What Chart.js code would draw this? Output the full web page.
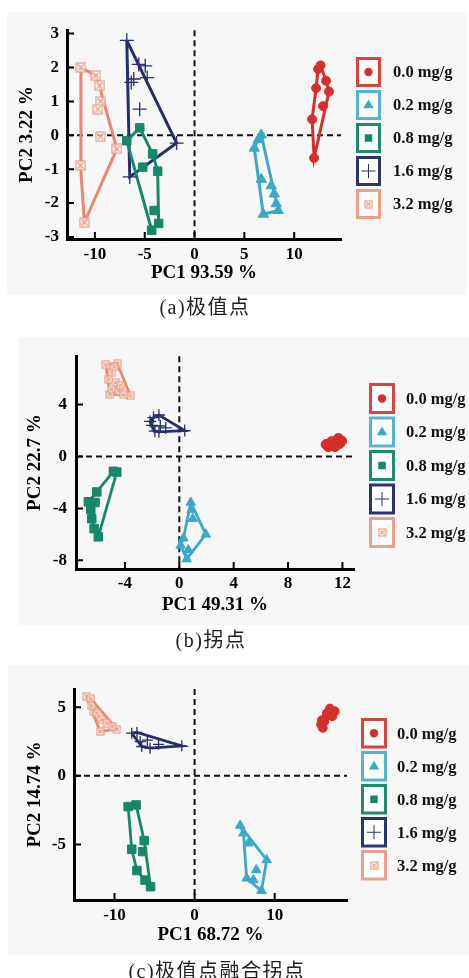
<!DOCTYPE html>
<html>
<head>
<meta charset="utf-8">
<script src="https://cdn.jsdelivr.net/npm/chart.js@4.4.1/dist/chart.umd.min.js"></script>
<style>
  html, body { margin: 0; padding: 0; background: #fff; }
  body { width: 469px; height: 978px; position: relative; overflow: hidden; }
  .panel { position: absolute; background: #f7f7f7; }
  .panel canvas { display: block; }
  .cap {
    position: absolute; transform: translate(-50%, -50%); white-space: nowrap;
    font: 20px "Liberation Serif", "Noto Sans CJK SC", serif; letter-spacing: 1.5px; color: #222;
  }
</style>
</head>
<body>
<div class="panel" style="left:7px;top:12px;width:460px;height:283px"><canvas id="ca" width="460" height="283"></canvas></div>
<div class="cap" style="left:205px;top:305px">(a)极值点</div>
<div class="panel" style="left:18px;top:337px;width:451px;height:288px"><canvas id="cb" width="451" height="288"></canvas></div>
<div class="cap" style="left:211px;top:638px">(b)拐点</div>
<div class="panel" style="left:8px;top:665px;width:461px;height:290px"><canvas id="cc" width="461" height="290"></canvas></div>
<div class="cap" style="left:217px;top:969px">(c)极值点融合拐点</div>

<script>
const GROUPS = ["0.0 mg/g", "0.2 mg/g", "0.8 mg/g", "1.6 mg/g", "3.2 mg/g"];
const COLORS = ["#d5302a", "#3aa9c9", "#17876a", "#252f6b", "#ec876b"];
const BOX_COLORS = ["#d6453e", "#55b3d1", "#1f8b6e", "#2b3572", "#eea08a"];
const MARK_ORANGE = "#e99c86";

// (a) 极值点
const A_X_TICKS = [-10, -5, 0, 5, 10];
const A_Y_TICKS = [-3, -2, -1, 0, 1, 2, 3];
const A_RED_X = [12.65, 12.4, 13.2, 12.2, 13.5, 12.9, 11.8, 12.0];
const A_RED_Y = [2.06, 1.95, 1.61, 1.39, 1.29, 0.86, 0.47, -0.67];
const A_RED_HULL = [0, 2, 4, 7, 6, 3, 1];
const A_CYAN_X = [6.7, 6.4, 6.0, 6.7, 7.7, 8.0, 8.2, 8.4, 6.9];
const A_CYAN_Y = [0.01, -0.13, -0.38, -1.3, -1.49, -1.73, -2.02, -2.22, -2.33];
const A_CYAN_HULL = [0, 7, 8, 2, 1];
const A_GREEN_X = [-5.5, -6.8, -4.2, -5.2, -3.7, -4.05, -3.6, -4.3];
const A_GREEN_Y = [0.22, -0.16, -0.55, -0.94, -1.06, -2.22, -2.6, -2.8];
const A_GREEN_HULL = [0, 2, 4, 6, 7, 1];
const A_NAVY_X = [-6.8, -5.6, -4.95, -4.75, -6.1, -6.35, -5.5, -1.8, -6.5];
const A_NAVY_Y = [2.8, 2.09, 2.05, 1.7, 1.66, 1.56, 0.77, -0.23, -1.23];
const A_NAVY_HULL = [0, 7, 8];
const A_ORANGE_X = [-11.4, -9.9, -9.55, -9.45, -9.7, -9.45, -7.8, -11.45, -11.05];
const A_ORANGE_Y = [2.0, 1.76, 1.46, 1.0, 0.77, -0.04, -0.4, -0.89, -2.57];
const A_ORANGE_HULL = [0, 1, 2, 6, 8, 7];

// (b) 拐点
const B_X_TICKS = [-4, 0, 4, 8, 12];
const B_Y_TICKS = [-8, -4, 0, 4];
const B_RED_X = [10.8, 10.96, 11.2, 11.45, 11.7, 11.8, 11.94];
const B_RED_Y = [0.93, 0.76, 1.14, 0.76, 1.39, 1.0, 1.2];
const B_RED_HULL = [1, 3, 5, 6, 4, 2, 0];
const B_CYAN_X = [0.84, 0.91, 0.99, 1.95, 0.3, 0.1, 0.66, 0.54];
const B_CYAN_Y = [-3.54, -4.09, -4.8, -6.0, -6.3, -6.85, -7.2, -7.9];
const B_CYAN_HULL = [0, 3, 7, 5, 4];
const B_GREEN_X = [-4.85, -4.6, -6.07, -6.69, -6.2, -6.51, -6.44, -6.27, -5.96];
const B_GREEN_Y = [-1.14, -1.2, -2.73, -3.49, -3.54, -4.09, -4.8, -5.56, -6.19];
const B_GREEN_HULL = [0, 1, 8, 7, 6, 5, 3, 2];
const B_NAVY_X = [-2.15, -1.5, 0.4, -1.8, -2.0, -1.5, -1.4, -1.0, -1.9];
const B_NAVY_Y = [2.7, 3.2, 2.0, 1.95, 2.4, 1.9, 2.35, 2.2, 3.0];
const B_NAVY_HULL = [0, 8, 1, 2, 5, 3];
const B_ORANGE_X = [-5.4, -4.55, -3.6, -5.1, -4.97, -4.7, -5.2, -4.49, -4.1, -4.8, -5.0, -4.3];
const B_ORANGE_Y = [7.07, 7.15, 4.68, 4.8, 6.44, 5.69, 5.94, 5.06, 4.75, 6.9, 5.2, 5.5];
const B_ORANGE_HULL = [0, 1, 2, 3];

// (c) 极值点融合拐点
const C_X_TICKS = [-10, 0, 10];
const C_Y_TICKS = [-5, 0, 5];
const C_RED_X = [16.9, 17.5, 17.2, 16.5, 16.2, 15.8, 16.0, 15.9];
const C_RED_Y = [4.9, 4.7, 4.35, 4.55, 3.95, 3.75, 3.5, 4.05];
const C_RED_HULL = [0, 1, 2, 4, 6, 5, 7, 3];
const C_CYAN_X = [5.69, 6.1, 6.72, 9.0, 7.7, 7.35, 8.35, 6.5];
const C_CYAN_Y = [-3.62, -4.18, -4.91, -6.13, -6.86, -7.59, -8.38, -7.47];
const C_CYAN_HULL = [0, 3, 6, 7, 1];
const C_GREEN_X = [-8.3, -7.3, -6.3, -7.85, -6.5, -7.2, -6.19, -5.5];
const C_GREEN_Y = [-2.24, -2.12, -4.72, -5.35, -5.52, -6.9, -7.6, -8.08];
const C_GREEN_HULL = [0, 1, 2, 7, 5, 3];
const C_NAVY_X = [-7.85, -7.2, -1.6, -6.6, -5.56, -5.9, -6.8, -4.5];
const C_NAVY_Y = [3.11, 3.16, 2.19, 2.14, 2.02, 2.6, 2.5, 2.3];
const C_NAVY_HULL = [0, 1, 2, 4, 3];
const C_ORANGE_X = [-13.5, -13.0, -9.7, -11.8, -12.6, -12.2, -11.6, -11.0, -10.3, -12.9];
const C_ORANGE_Y = [5.8, 5.65, 3.4, 3.23, 4.7, 4.58, 4.09, 3.85, 3.6, 5.1];
const C_ORANGE_HULL = [0, 1, 2, 3];

const SERIF = '"Liberation Serif", "Times New Roman", serif';
const TITLE_SIZE = 19;
const TICK_SIZE = 17;
const LEGEND_SIZE = 16.5;

const pts = (xs, ys) => xs.map((x, i) => ({ x, y: ys[i] }));
const hull = (p, idx) => idx.concat(idx[0]).map((i) => p[i]);

function xbox(size, color) {
  const c = document.createElement("canvas");
  c.width = c.height = size;
  const g = c.getContext("2d");
  g.fillStyle = "rgba(255,255,255,0.7)";
  g.fillRect(1, 1, size - 2, size - 2);
  g.strokeStyle = color;
  g.lineWidth = 1.2;
  g.strokeRect(1, 1, size - 2, size - 2);
  g.beginPath();
  g.moveTo(2.5, 2.5); g.lineTo(size - 2.5, size - 2.5);
  g.moveTo(size - 2.5, 2.5); g.lineTo(2.5, size - 2.5);
  g.stroke();
  return c;
}

function mark(ctx, i, cx, cy, r) {
  const col = COLORS[i];
  ctx.save();
  ctx.fillStyle = col; ctx.strokeStyle = col;
  ctx.beginPath();
  if (i === 0) { ctx.arc(cx, cy, r, 0, Math.PI * 2); ctx.fill(); }
  else if (i === 1) { ctx.moveTo(cx, cy - r); ctx.lineTo(cx + r * 0.95, cy + r * 0.6); ctx.lineTo(cx - r * 0.95, cy + r * 0.6); ctx.closePath(); ctx.fill(); }
  else if (i === 2) { ctx.fillRect(cx - r * 0.75, cy - r * 0.75, r * 1.5, r * 1.5); }
  else if (i === 3) { ctx.lineWidth = 1; ctx.moveTo(cx - r, cy); ctx.lineTo(cx + r, cy); ctx.moveTo(cx, cy - r); ctx.lineTo(cx, cy + r); ctx.stroke(); }
  else { const im = xbox(9, MARK_ORANGE); ctx.drawImage(im, cx - 4.5, cy - 4.5); }
  ctx.restore();
}

const decor = {
  id: "decor",
  beforeDatasetsDraw(chart) {
    const { ctx, chartArea: a, scales: { x, y } } = chart;
    const x0 = x.getPixelForValue(0), y0 = y.getPixelForValue(0);
    ctx.save();
    ctx.strokeStyle = "#111"; ctx.lineWidth = 2; ctx.setLineDash([6, 4]);
    ctx.beginPath();
    ctx.moveTo(x0, a.top); ctx.lineTo(x0, a.bottom);
    ctx.moveTo(a.left, y0); ctx.lineTo(a.right, y0);
    ctx.stroke();
    ctx.restore();
  },
  afterDraw(chart, args, o) {
    const { ctx, chartArea: a, scales: { x, y } } = chart;
    ctx.save();
    ctx.strokeStyle = "#000"; ctx.lineWidth = 2;
    ctx.beginPath();
    o.xTicks.forEach((v) => { const p = x.getPixelForValue(v); ctx.moveTo(p, a.bottom); ctx.lineTo(p, a.bottom - 7); });
    o.yTicks.forEach((v) => { const p = y.getPixelForValue(v); ctx.moveTo(a.left, p); ctx.lineTo(a.left + 7, p); });
    ctx.stroke();

    // legend boxes
    const L = o.legend;
    GROUPS.forEach((label, i) => {
      const top = L.y + i * L.pitch;
      ctx.fillStyle = "#fff";
      ctx.fillRect(L.x, top, L.w, L.h);
      ctx.strokeStyle = BOX_COLORS[i]; ctx.lineWidth = 3;
      ctx.strokeRect(L.x + 1.5, top + 1.5, L.w - 3, L.h - 3);
      mark(ctx, i, L.x + L.w / 2, top + L.h / 2, [4.2, 5.5, 5, 7, 0][i]);
      ctx.fillStyle = "#111";
      ctx.font = `bold ${LEGEND_SIZE}px ${SERIF}`;
      ctx.textBaseline = "middle"; ctx.textAlign = "left";
      ctx.fillText(label, L.textX, top + L.h / 2 + 1);
    });
    ctx.restore();
  },
};

function buildPanel(id, d) {
  const lh = TITLE_SIZE * 1.2;
  const padLeft = d.yTitleX - lh / 2;
  const styles = ["circle", "triangle", "rect", "cross", xbox(d.r[4], MARK_ORANGE)];
  const datasets = [];
  d.groups.forEach((g, i) => {
    const p = pts(g[0], g[1]);
    datasets.push({
      data: p, order: 1, showLine: false,
      pointStyle: styles[i], pointRadius: i === 4 ? 5 : d.r[i],
      pointBackgroundColor: COLORS[i], pointBorderColor: COLORS[i],
      pointBorderWidth: i === 3 ? 1.3 : 1,
    });
    datasets.push({
      data: hull(p, g[2]), order: 2, showLine: true, tension: 0, fill: false,
      borderColor: COLORS[i], borderWidth: d.lw, pointRadius: 0,
    });
  });
  const axisTitle = (text, pad) => ({ display: true, text, color: "#000", font: { family: SERIF, size: TITLE_SIZE, weight: "bold" }, padding: pad });
  const tickFont = { family: SERIF, size: TICK_SIZE, weight: "bold" };
  return new Chart(document.getElementById(id), {
    type: "scatter",
    data: { datasets },
    options: {
      responsive: false, animation: false, devicePixelRatio: 1,
      layout: { padding: { left: padLeft, top: d.area.top, right: d.width - d.area.right, bottom: 0 } },
      plugins: {
        legend: { display: false }, tooltip: { enabled: false },
        decor: { xTicks: d.xTicks, yTicks: d.yTicks, legend: d.legend },
      },
      scales: {
        x: {
          type: "linear", min: d.xr[0], max: d.xr[1],
          afterBuildTicks: (s) => { s.ticks = d.xTicks.map((v) => ({ value: v })); },
          afterFit: (s) => { s.height = d.height - d.area.bottom; },
          grid: { display: true, drawOnChartArea: false, drawTicks: false },
          border: { display: true, color: "#000", width: 3 },
          ticks: { font: tickFont, color: "#000", padding: d.xPad, autoSkip: false, maxRotation: 0, callback: (v) => String(v) },
          title: axisTitle(d.xTitle, { top: 0, bottom: d.height - d.xTitleY - lh / 2 }),
        },
        y: {
          type: "linear", min: d.yr[0], max: d.yr[1],
          afterBuildTicks: (s) => { s.ticks = d.yTicks.map((v) => ({ value: v })); },
          afterFit: (s) => { s.width = d.area.left - padLeft; },
          grid: { display: true, drawOnChartArea: false, drawTicks: false },
          border: { display: true, color: "#000", width: 3 },
          ticks: { font: tickFont, color: "#000", padding: d.yPad, autoSkip: false, callback: (v) => String(v) },
          title: axisTitle(d.yTitle, { top: 0, bottom: 0 }),
        },
      },
    },
    plugins: [decor],
  });
}

buildPanel("ca", {
  width: 460, height: 283,
  area: { left: 60, top: 15, right: 334, bottom: 227 },
  xr: [-12.8, 14.7], yr: [-3.06, 3.1],
  xTicks: A_X_TICKS, yTicks: A_Y_TICKS,
  xTitle: "PC1 93.59 %", yTitle: "PC2 3.22 %",
  yTitleX: 20, xTitleY: 261, xPad: 5, yPad: 8, lw: 3,
  r: [4.5, 6, 6, 7, 11],
  legend: { x: 349, y: 45, w: 25, h: 30, pitch: 33, textX: 386 },
  groups: [
    [A_RED_X, A_RED_Y, A_RED_HULL],
    [A_CYAN_X, A_CYAN_Y, A_CYAN_HULL],
    [A_GREEN_X, A_GREEN_Y, A_GREEN_HULL],
    [A_NAVY_X, A_NAVY_Y, A_NAVY_HULL],
    [A_ORANGE_X, A_ORANGE_Y, A_ORANGE_HULL],
  ],
});

buildPanel("cb", {
  width: 451, height: 288,
  area: { left: 58, top: 16, right: 336, bottom: 232 },
  xr: [-7.6, 12.85], yr: [-8.67, 7.73],
  xTicks: B_X_TICKS, yTicks: B_Y_TICKS,
  xTitle: "PC1 49.31 %", yTitle: "PC2 22.7 %",
  yTitleX: 17, xTitleY: 268, xPad: 4, yPad: 9, lw: 2.8,
  r: [5, 5.5, 6, 6, 9],
  legend: { x: 351, y: 46, w: 26, h: 31, pitch: 33.5, textX: 388 },
  groups: [
    [B_RED_X, B_RED_Y, B_RED_HULL],
    [B_CYAN_X, B_CYAN_Y, B_CYAN_HULL],
    [B_GREEN_X, B_GREEN_Y, B_GREEN_HULL],
    [B_NAVY_X, B_NAVY_Y, B_NAVY_HULL],
    [B_ORANGE_X, B_ORANGE_Y, B_ORANGE_HULL],
  ],
});

buildPanel("cc", {
  width: 461, height: 290,
  area: { left: 66, top: 24, right: 339, bottom: 235 },
  xr: [-15.06, 19.03], yr: [-9.05, 6.33],
  xTicks: C_X_TICKS, yTicks: C_Y_TICKS,
  xTitle: "PC1 68.72 %", yTitle: "PC2 14.74 %",
  yTitleX: 27, xTitleY: 270, xPad: 5, yPad: 8, lw: 2.8,
  r: [4.5, 5.5, 6, 5.5, 9],
  legend: { x: 353, y: 53, w: 26, h: 30.5, pitch: 33, textX: 389 },
  groups: [
    [C_RED_X, C_RED_Y, C_RED_HULL],
    [C_CYAN_X, C_CYAN_Y, C_CYAN_HULL],
    [C_GREEN_X, C_GREEN_Y, C_GREEN_HULL],
    [C_NAVY_X, C_NAVY_Y, C_NAVY_HULL],
    [C_ORANGE_X, C_ORANGE_Y, C_ORANGE_HULL],
  ],
});
</script>
</body>
</html>
